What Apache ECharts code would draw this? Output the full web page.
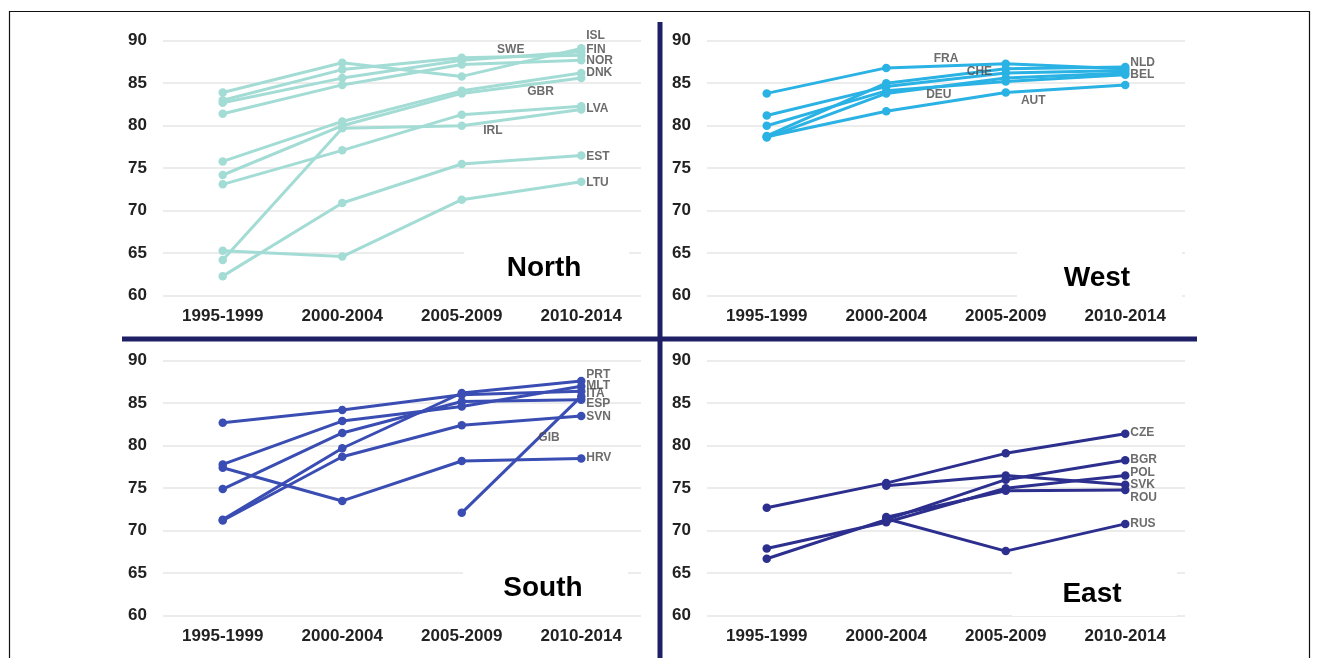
<!DOCTYPE html>
<html>
<head>
<meta charset="utf-8">
<script src="https://cdn.jsdelivr.net/npm/echarts@6/dist/echarts.min.js"></script>
<style>
html,body{margin:0;padding:0;background:#fff;}
#c{width:1317px;height:658px;}
</style>
</head>
<body>
<div id="c"></div>
<script>
// ---------- DATA ----------
const categories = ['1995-1999', '2000-2004', '2005-2009', '2010-2014'];
const yMin = 60, yMax = 90, yStep = 5;

// North
const northNames = ['ISL', 'FIN', 'NOR', 'SWE', 'DNK', 'GBR', 'LVA', 'IRL', 'EST', 'LTU'];
const northValues = [
  [83.9, 87.4, 85.8, 89.1],
  [82.7, 85.6, 87.7, 88.7],
  [81.4, 84.8, 87.2, 87.7],
  [83.0, 86.6, 88.0, 88.3],
  [75.8, 80.5, 84.1, 86.2],
  [74.2, 80.0, 83.8, 85.6],
  [73.1, 77.1, 81.3, 82.3],
  [64.2, 79.7, 80.0, 81.9],
  [62.3, 70.9, 75.5, 76.5],
  [65.3, 64.6, 71.3, 73.4]
];
// annotation: [text, category position, value, side]
const northLabels = [
  ['ISL', 3, 90.55, 'right'], ['FIN', 3, 89.0, 'right'], ['NOR', 3, 87.65, 'right'],
  ['DNK', 3, 86.2, 'right'], ['LVA', 3, 82.05, 'right'], ['EST', 3, 76.4, 'right'],
  ['LTU', 3, 73.3, 'right'], ['SWE', 2.41, 88.9, 'inside'], ['GBR', 2.66, 84.0, 'inside'],
  ['IRL', 2.26, 79.4, 'inside']
];

// West
const westNames = ['FRA', 'CHE', 'DEU', 'NLD', 'BEL', 'AUT'];
const westValues = [
  [83.8, 86.8, 87.3, 86.7],
  [81.2, 84.6, 86.2, 86.5],
  [80.0, 84.1, 85.2, 86.0],
  [78.8, 85.0, 86.7, 86.9],
  [78.6, 83.8, 85.6, 86.2],
  [78.7, 81.7, 83.9, 84.8]
];
const westLabels = [
  ['NLD', 3, 87.4, 'right'], ['BEL', 3, 86.0, 'right'],
  ['FRA', 1.5, 87.85, 'inside'], ['CHE', 1.78, 86.4, 'inside'],
  ['DEU', 1.44, 83.7, 'inside'], ['AUT', 2.23, 83.0, 'inside']
];

// South
const southNames = ['PRT', 'MLT', 'ITA', 'ESP', 'SVN', 'GIB', 'HRV'];
const southValues = [
  [71.3, 79.7, 86.2, 87.6],
  [77.8, 82.9, 84.6, 87.0],
  [82.7, 84.2, 86.0, 86.4],
  [74.9, 81.5, 85.2, 85.4],
  [71.2, 78.7, 82.4, 83.5],
  [null, null, 72.1, 85.8],
  [77.4, 73.5, 78.2, 78.5]
];
const southLabels = [
  ['PRT', 3, 88.3, 'right'], ['MLT', 3, 87.1, 'right'], ['ITA', 3, 86.1, 'right'],
  ['ESP', 3, 85.0, 'right'], ['SVN', 3, 83.4, 'right'], ['HRV', 3, 78.6, 'right'],
  ['GIB', 2.73, 81.0, 'inside']
];

// East
const eastNames = ['CZE', 'BGR', 'POL', 'SVK', 'ROU', 'RUS'];
const eastValues = [
  [72.7, 75.6, 79.1, 81.4],
  [66.7, 71.3, 76.0, 78.3],
  [67.9, 71.0, 75.0, 76.5],
  [null, 75.3, 76.5, 75.4],
  [null, 71.6, 74.7, 74.8],
  [null, 71.4, 67.6, 70.8]
];
const eastLabels = [
  ['CZE', 3, 81.5, 'right'], ['BGR', 3, 78.3, 'right'], ['POL', 3, 76.8, 'right'],
  ['SVK', 3, 75.4, 'right'], ['ROU', 3, 73.9, 'right'], ['RUS', 3, 70.8, 'right']
];

const regionTitles = ['North', 'West', 'South', 'East'];

// ---------- CHART ----------
const FONT = 'Liberation Sans, Arial, sans-serif';
const panels = [
  { names: northNames, values: northValues, labels: northLabels, color: '#a3dcd5', title: regionTitles[0], grid: { left: 163, top: 40.7, width: 478, height: 255 }, tx: 544, ty: 268 },
  { names: westNames, values: westValues, labels: westLabels, color: '#29b2e3', title: regionTitles[1], grid: { left: 707, top: 40.7, width: 478, height: 255 }, tx: 1097, ty: 278 },
  { names: southNames, values: southValues, labels: southLabels, color: '#3a4db3', title: regionTitles[2], grid: { left: 163, top: 360.7, width: 478, height: 255 }, tx: 543, ty: 588 },
  { names: eastNames, values: eastValues, labels: eastLabels, color: '#2c2f8e', title: regionTitles[3], grid: { left: 707, top: 360.7, width: 478, height: 255 }, tx: 1092, ty: 594 }
];

const grids = [], xAxes = [], yAxes = [], series = [], graphics = [];
panels.forEach((p, gi) => {
  grids.push(Object.assign({ containLabel: false }, p.grid));
  xAxes.push({
    type: 'category', gridIndex: gi, data: categories, boundaryGap: true,
    axisLine: { show: false }, axisTick: { show: false }, splitLine: { show: false },
    axisLabel: { margin: 12, fontSize: 17, fontWeight: 'bold', color: '#222', fontFamily: FONT }
  });
  xAxes.push({ type: 'value', gridIndex: gi, min: -0.5, max: 3.5, show: false, splitLine: { show: false } });
  yAxes.push({
    type: 'value', gridIndex: gi, min: yMin, max: yMax, interval: yStep,
    axisLine: { show: false }, axisTick: { show: false },
    splitLine: { show: true, lineStyle: { color: '#e6e6e6', width: 1.5 } },
    axisLabel: { margin: 16, fontSize: 17, fontWeight: 'bold', color: '#222', fontFamily: FONT }
  });
  p.names.forEach((nm, si) => {
    series.push({
      name: nm, type: 'line', xAxisIndex: gi * 2, yAxisIndex: gi,
      data: p.values[si], symbol: 'circle', symbolSize: 8.5, connectNulls: false,
      color: p.color, lineStyle: { width: 3, color: p.color }, itemStyle: { color: p.color },
      emphasis: { disabled: true }, animation: false, z: 3
    });
  });
  series.push({
    type: 'scatter', xAxisIndex: gi * 2 + 1, yAxisIndex: gi, symbolSize: 0, animation: false, z: 5,
    clip: false,
    data: p.labels.map(l => ({
      value: [l[1], l[2]],
      label: {
        show: true, formatter: l[0], position: l[3] === 'right' ? 'right' : 'inside',
        distance: 5, fontSize: 12, fontWeight: 'bold', color: '#474747', fontFamily: FONT
      }
    }))
  });
  graphics.push({
    type: 'rect', z: 50, shape: { x: p.tx - 80, y: p.ty - 28, width: 165, height: 50 },
    style: { fill: '#fff' }, silent: true
  });
  graphics.push({
    type: 'text', z: 51, x: p.tx, y: p.ty,
    style: { text: p.title, fill: '#000', font: 'bold 28px ' + FONT, textAlign: 'center', textVerticalAlign: 'middle' }
  });
});

// frame and dividers
graphics.push({ type: 'rect', z: 60, shape: { x: 9.5, y: 11.5, width: 1300, height: 680 }, style: { fill: 'none', stroke: '#111', lineWidth: 1.2 }, silent: true });
graphics.push({ type: 'rect', z: 61, shape: { x: 657.5, y: 22, width: 5, height: 640 }, style: { fill: '#1f1f66' }, silent: true });
graphics.push({ type: 'rect', z: 61, shape: { x: 122, y: 336.5, width: 1075, height: 5 }, style: { fill: '#1f1f66' }, silent: true });

const chart = echarts.init(document.getElementById('c'), null, { renderer: 'canvas' });
chart.setOption({
  animation: false,
  backgroundColor: '#fff',
  grid: grids, xAxis: xAxes, yAxis: yAxes, series: series, graphic: graphics,
  tooltip: { show: false }
});
</script>
</body>
</html>
